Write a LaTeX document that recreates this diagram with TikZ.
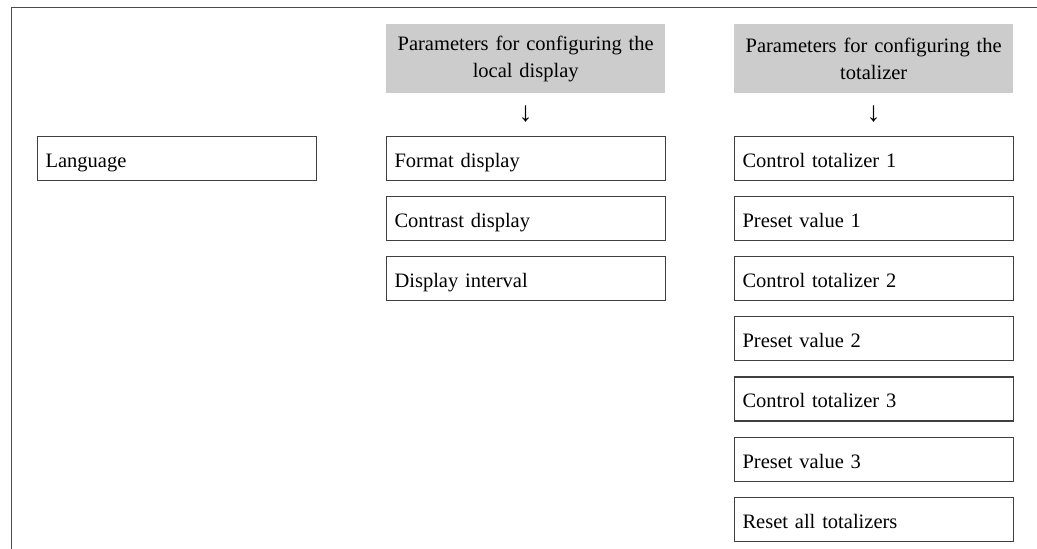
\documentclass[tikz,border=0pt]{standalone}
\usepackage{fontspec}
\setmainfont{Liberation Serif}
\usepackage{tikz}
\usetikzlibrary{positioning}

\tikzset{
    param/.style={draw=black!75, line width=1.1pt, anchor=north west,
        minimum width=279pt, minimum height=44pt, text width=263pt,
        text height=18pt, text depth=0pt,
        inner xsep=8pt, inner ysep=0pt, align=left},
    header/.style={fill=black!20, anchor=north west, minimum width=279pt,
        minimum height=69pt, text width=275pt, inner sep=2pt, align=center},
    downsign/.style={inner sep=0pt, font=\fontsize{28}{30}\selectfont}
}

\begin{document}
\begin{tikzpicture}[x=1pt, y=-1pt, font=\fontsize{20.5}{27}\selectfont]
    \useasboundingbox (0,0) rectangle (1037,549);

    % frame
    \draw[line width=1pt, black!70] (1037,7.5) -- (11,7.5) -- (11,549);

    % headers
    \node[header] (hdisp) at (386,24) {Parameters for configuring the\\local display};
    \node[header] (htot)  at (734,24) {Parameters for configuring the\\totalizer};
    \node[downsign] (adisp) at (525.5,114) {↓};
    \node[downsign] (atot)  at (873.5,114) {↓};

    % first column
    \node[param] (lang) at (37,136) {Language};

    % local display
    \node[param] (fmt) at (386,136) {Format display};
    \node[param, below=15pt of fmt]   (contr) {Contrast display};
    \node[param, below=15pt of contr] (intv)  {Display interval};

    % totalizer
    \node[param] (ctot1) at (734,136) {Control totalizer 1};
    \node[param, below=15pt of ctot1] (pset1) {Preset value 1};
    \node[param, below=15pt of pset1] (ctot2) {Control totalizer 2};
    \node[param, below=15pt of ctot2] (pset2) {Preset value 2};
    \node[param, below=15pt of pset2] (ctot3) {Control totalizer 3};
    \node[param, below=15pt of ctot3] (pset3) {Preset value 3};
    \node[param, below=15pt of pset3] (rsall) {Reset all totalizers};
\end{tikzpicture}
\end{document}
